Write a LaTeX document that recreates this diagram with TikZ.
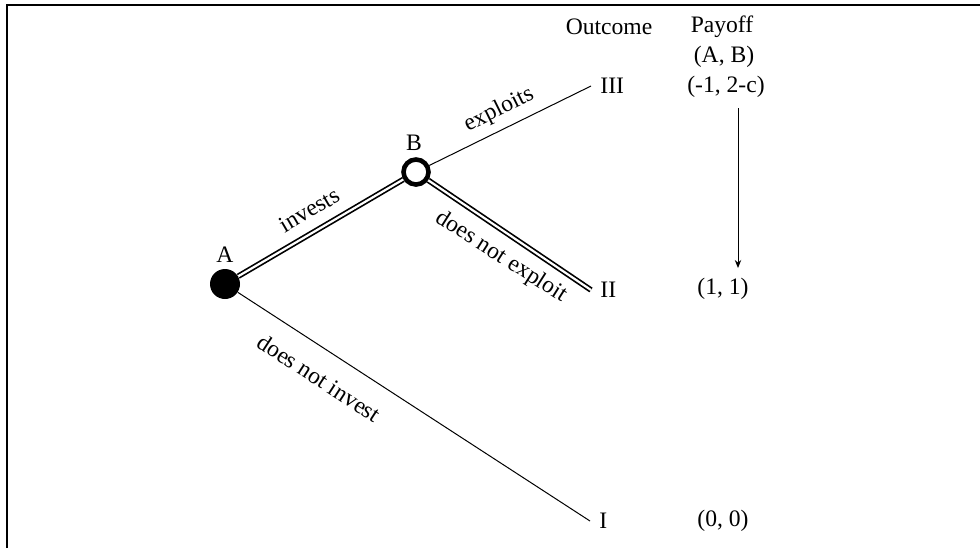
\documentclass[tikz,border=0pt]{standalone}
\usepackage{fontspec}
\setmainfont{Liberation Serif}
\usetikzlibrary{arrows.meta}
\begin{document}
\begin{tikzpicture}[x=0.5pt,y=-0.5pt,
  every node/.style={font=\fontsize{11.8}{13}\selectfont},
  thinline/.style={line width=0.5pt},
  dbl/.style={double, double distance=1.1pt, line width=0.85pt},
  lbl/.style={inner sep=0pt},
  endlbl/.style={anchor=west, inner sep=0pt, inner xsep=4.5pt}]
\useasboundingbox (0,0) rectangle (980,548);
\draw[line width=1pt] (7,548) -- (7,5) -- (980,5);
% decision nodes
\node[circle, fill=black, minimum size=15pt, inner sep=0pt] (A) at (225,284) {};
\node[circle, draw=black, fill=white, line width=2.3pt, minimum size=12.5pt, inner sep=0pt] (B) at (416,172) {};
\node[lbl] (Alab) at (225,255) {A};
\node[lbl] (Blab) at (414,143) {B};
% outcomes
\node[endlbl] (III) at (591,86) {III};
\node[endlbl] (II) at (591,290) {II};
\node[endlbl] (I) at (590,521) {I};
% headers and payoffs
\node[lbl] (outc) at (609,27) {Outcome};
\node[lbl] (pay) at (722,27) {Payoff};
\node[lbl] (ab) at (724,57) {(A, B)};
\node[lbl] (p3) at (726,87) {(-1, 2-c)};
\node[lbl] (p2) at (723,289) {(1, 1)};
\node[lbl] (p1) at (723,521) {(0, 0)};
% branches
\draw[dbl] (A) -- (B);
\draw[dbl] (B) -- (II.west);
\draw[thinline] (B) -- (III.west);
\draw[thinline] (A) -- (I.west);
% branch labels
\node[lbl, rotate=30.4] (inv) at (309,210) {invests};
\node[lbl, rotate=26.3] (exp) at (499,110) {exploits};
\node[lbl, rotate=-32.5] (dne) at (501,257) {does not exploit};
\node[lbl, rotate=-33] (dni) at (319,378) {does not invest};
% arrow
\coordinate (arrs) at (738,108);
\coordinate (arre) at (738,268);
\draw[thinline, -{Stealth[length=4pt,width=3.2pt]}] (arrs) -- (arre);
\end{tikzpicture}
\end{document}
